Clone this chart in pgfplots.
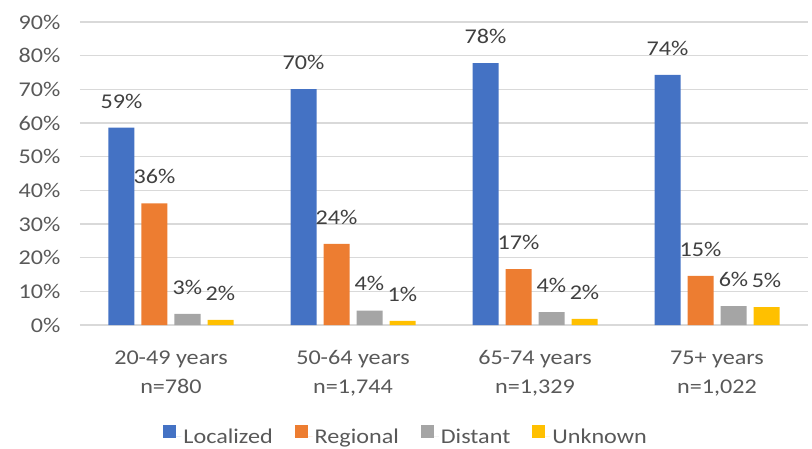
\documentclass[border=0pt]{standalone}
\usepackage{pgfplots}
\pgfplotsset{compat=1.18}
\usepackage{fontspec}
\setmainfont{Carlito}[FakeStretch=1.15]
\definecolor{cBlue}{HTML}{4472C4}
\definecolor{cOrange}{HTML}{ED7D31}
\definecolor{cGray}{HTML}{A5A5A5}
\definecolor{cYellow}{HTML}{FFC000}
\definecolor{txt}{HTML}{595959}
\definecolor{lbl}{HTML}{404040}
\definecolor{grid}{HTML}{D9D9D9}
\begin{document}
\begin{tikzpicture}
\useasboundingbox (0,0) rectangle (812pt,448pt);
\begin{axis}[
  at={(80pt,123pt)}, anchor=south west,
  scale only axis, width=728pt, height=303pt,
  ybar=7pt, bar width=26pt,
  xmin=-0.5, xmax=3.5, ymin=0, ymax=90,
  xtick={0,1,2,3},
  xticklabels={{20-49 years\\n=780},{50-64 years\\n=1,744},{65-74 years\\n=1,329},{75+ years\\n=1,022}},
  ytick={0,10,...,90},
  yticklabels={0\%,10\%,20\%,30\%,40\%,50\%,60\%,70\%,80\%,90\%},
  major tick length=0pt,
  axis line style={draw=none},
  ymajorgrids, grid style={draw=grid, line width=1.5pt},
  yticklabel style={font=\fontsize{21}{26}\selectfont, text=txt, xshift=-16pt},
  xticklabel style={font=\fontsize{21}{29}\selectfont, text=txt, align=center, yshift=-22pt},
  nodes near coords={\pgfmathprintnumber[fixed,precision=0,assume math mode=true]{\pgfplotspointmeta}\%},
  nodes near coords style={font=\fontsize{21}{26}\selectfont, text=lbl, yshift=16pt},
  every axis plot/.append style={draw=none},
  legend image code/.code={\path (0pt,0pt) -- (18pt,0pt); \fill[#1] (0pt,-1pt) rectangle (13pt,12pt);},
  legend columns=-1,
  legend style={at={(0.448,-0.365)}, anchor=center, draw=none, fill=none,
    font=\fontsize{21}{26}\selectfont, text=txt,
    /tikz/every even column/.append style={column sep=20pt}},
]
\addplot[fill=cBlue] coordinates {(0,58.6) (1,70.1) (2,77.8) (3,74.3)};
\addplot[fill=cOrange] coordinates {(0,36.1) (1,24.1) (2,16.6) (3,14.6)};
\addplot[fill=cGray] coordinates {(0,3.3) (1,4.3) (2,3.8) (3,5.6)};
\addplot[fill=cYellow] coordinates {(0,1.5) (1,1.2) (2,1.8) (3,5.3)};
\legend{Localized,Regional,Distant,Unknown}
\end{axis}
\end{tikzpicture}
\end{document}
